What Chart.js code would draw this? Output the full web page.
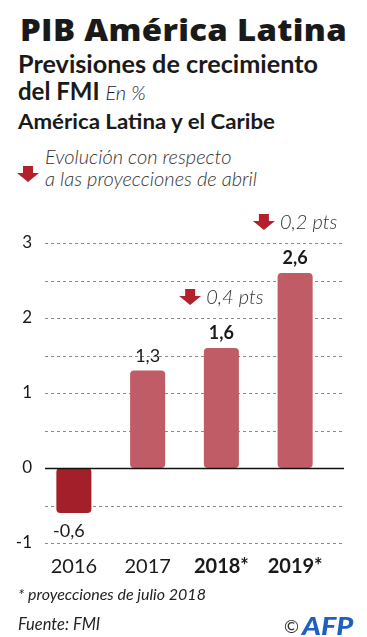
<!DOCTYPE html>
<html>
<head>
<meta charset="utf-8">
<script src="https://cdn.jsdelivr.net/npm/chart.js@4"></script>
<style>
  html, body { margin: 0; padding: 0; background: #fff; }
  body { width: 367px; height: 637px; position: relative; overflow: hidden; font-family: Lato, "Open Sans", sans-serif; color: #1a1a1a; }
  .t { position: absolute; left: 18px; white-space: nowrap; line-height: 1; transform-origin: left top; }
  #chartBox { position: absolute; left: 0; top: 190px; width: 367px; height: 400px; }
</style>
</head>
<body>
<div class="t" data-w="327" style="left:20px;top:14px;font-family:'Open Sans';font-size:30.5px;font-weight:800;letter-spacing:0.3px;">PIB América Latina</div>
<div class="t" data-w="300" style="top:52px;font-size:24px;font-weight:700;">Previsiones de crecimiento</div>
<div class="t" style="top:79px;font-size:24px;font-weight:700;">del FMI <span style="font-size:20px;font-weight:300;font-style:italic;">En %</span></div>
<div class="t" data-w="257" style="top:111px;font-size:21.5px;font-weight:700;">América Latina y el Caribe</div>
<svg style="position:absolute;left:17px;top:166px" width="22" height="16" viewBox="0 0 22 16">
  <polygon points="6,0 16,0 16,7 22,7 11,16 0,7 6,7" fill="#b3222c"/>
</svg>
<div class="t" style="left:45px;top:146px;font-size:20px;font-weight:300;font-style:italic;color:#333;">Evolución con respecto</div>
<div class="t" style="left:45px;top:168px;font-size:20px;font-weight:300;font-style:italic;color:#333;">a las proyecciones de abril</div>

<div id="chartBox"><canvas id="chart"></canvas></div>

<div class="t" style="top:586px;font-size:16px;font-style:italic;color:#222;">* proyecciones de julio 2018</div>
<div class="t" style="top:616px;font-size:16.5px;font-style:italic;color:#222;">Fuente: FMI</div>
<div class="t" style="left:284px;top:617px;font-size:18px;color:#333;">©</div>
<div class="t" style="left:302px;top:614px;font-size:24px;font-weight:900;font-style:italic;color:#1f5fbf;transform:scaleX(1.2);">AFP</div>

<script>
// data
const years = ['2016', '2017', '2018*', '2019*'];
const growth = [-0.6, 1.3, 1.6, 2.6];
const growthLabels = ['-0,6', '1,3', '1,6', '2,6'];
const projected = [false, false, true, true];
const revisionLabels = [null, null, '0,4 pts', '0,2 pts']; // drop vs April forecast
const yTicks = [-1, 0, 1, 2, 3];

const barColors = growth.map(v => v < 0 ? '#a3202a' : '#c05c66');
const ARROW = '#b3222c';

// stretch heading lines to the widths they have in the original graphic
function fitWidths() {
  document.querySelectorAll('[data-w]').forEach(el => {
    el.style.transform = 'none';
    const w = el.getBoundingClientRect().width;
    el.style.transform = 'scaleX(' + (+el.dataset.w / w) + ')';
  });
}
fitWidths();
if (document.fonts) document.fonts.ready.then(fitWidths);

function drawArrow(ctx, cx, cy) {
  ctx.beginPath();
  ctx.moveTo(cx - 5, cy - 8);
  ctx.lineTo(cx + 5, cy - 8);
  ctx.lineTo(cx + 5, cy - 1);
  ctx.lineTo(cx + 11, cy - 1);
  ctx.lineTo(cx, cy + 8);
  ctx.lineTo(cx - 11, cy - 1);
  ctx.lineTo(cx - 5, cy - 1);
  ctx.closePath();
  ctx.fillStyle = ARROW;
  ctx.fill();
}

const decor = {
  id: 'decor',
  beforeDatasetsDraw(chart) {
    const ctx = chart.ctx, y = chart.scales.y;
    ctx.save();
    ctx.strokeStyle = '#8a8a8a';
    ctx.lineWidth = 1;
    ctx.setLineDash([3, 3]);
    y.ticks.forEach(t => {
      if (t.value === 0) return;
      const py = Math.round(y.getPixelForValue(t.value)) + 0.5;
      ctx.beginPath();
      ctx.moveTo(45, py);
      ctx.lineTo(344, py);
      ctx.stroke();
    });
    ctx.restore();
  },
  afterDatasetsDraw(chart) {
    const ctx = chart.ctx, y = chart.scales.y;
    const meta = chart.getDatasetMeta(0);
    ctx.save();
    // zero line
    const y0 = Math.round(y.getPixelForValue(0)) + 0.5;
    ctx.strokeStyle = '#111';
    ctx.lineWidth = 1.5;
    ctx.beginPath();
    ctx.moveTo(45, y0);
    ctx.lineTo(344, y0);
    ctx.stroke();

    ctx.textAlign = 'center';
    ctx.textBaseline = 'alphabetic';
    meta.data.forEach((bar, i) => {
      const v = growth[i];
      ctx.fillStyle = '#1a1a1a';
      ctx.font = (projected[i] ? 'bold ' : '') + '18px Lato';
      if (v >= 0) {
        ctx.fillText(growthLabels[i], bar.x, bar.y - 9);
      } else {
        ctx.fillText(growthLabels[i], bar.x - 5, bar.y + 24);
      }
      if (revisionLabels[i]) {
        ctx.font = 'italic 300 20px Lato';
        const tw = ctx.measureText(revisionLabels[i]).width;
        const total = 22 + 5 + tw;
        const left = bar.x - total / 2;
        const cy = bar.y - 51;
        drawArrow(ctx, left + 11, cy);
        ctx.fillStyle = '#333';
        ctx.textAlign = 'left';
        ctx.fillText(revisionLabels[i], left + 27, cy + 7);
        ctx.textAlign = 'center';
      }
    });
    ctx.restore();
  }
};

new Chart(document.getElementById('chart'), {
  type: 'bar',
  data: {
    labels: years,
    datasets: [{
      data: growth,
      backgroundColor: barColors,
      borderRadius: 4,
      borderSkipped: false,
      categoryPercentage: 0.5,
      barPercentage: 0.95
    }]
  },
  options: {
    responsive: true,
    maintainAspectRatio: false,
    animation: false,
    layout: { padding: { top: 53, right: 35, left: 0, bottom: 0 } },
    plugins: { legend: { display: false }, tooltip: { enabled: false } },
    scales: {
      x: {
        grid: { display: false, drawTicks: false },
        border: { display: false },
        ticks: {
          color: '#1a1a1a',
          padding: 12,
          font: ctx => ({ family: 'Lato', size: 20, weight: projected[ctx.index] ? 'bold' : 'normal' })
        },
        afterFit: s => { s.height = 47; }
      },
      y: {
        min: -1,
        max: 3,
        grid: { display: false, drawTicks: false },
        border: { display: false },
        ticks: {
          stepSize: 0.5,
          padding: 5,
          color: '#1a1a1a',
          font: { family: 'Lato', size: 17 },
          callback: v => yTicks.includes(v) ? String(v) : ''
        },
        afterFit: s => { s.width = 37; }
      }
    }
  },
  plugins: [decor]
});
</script>
</body>
</html>
